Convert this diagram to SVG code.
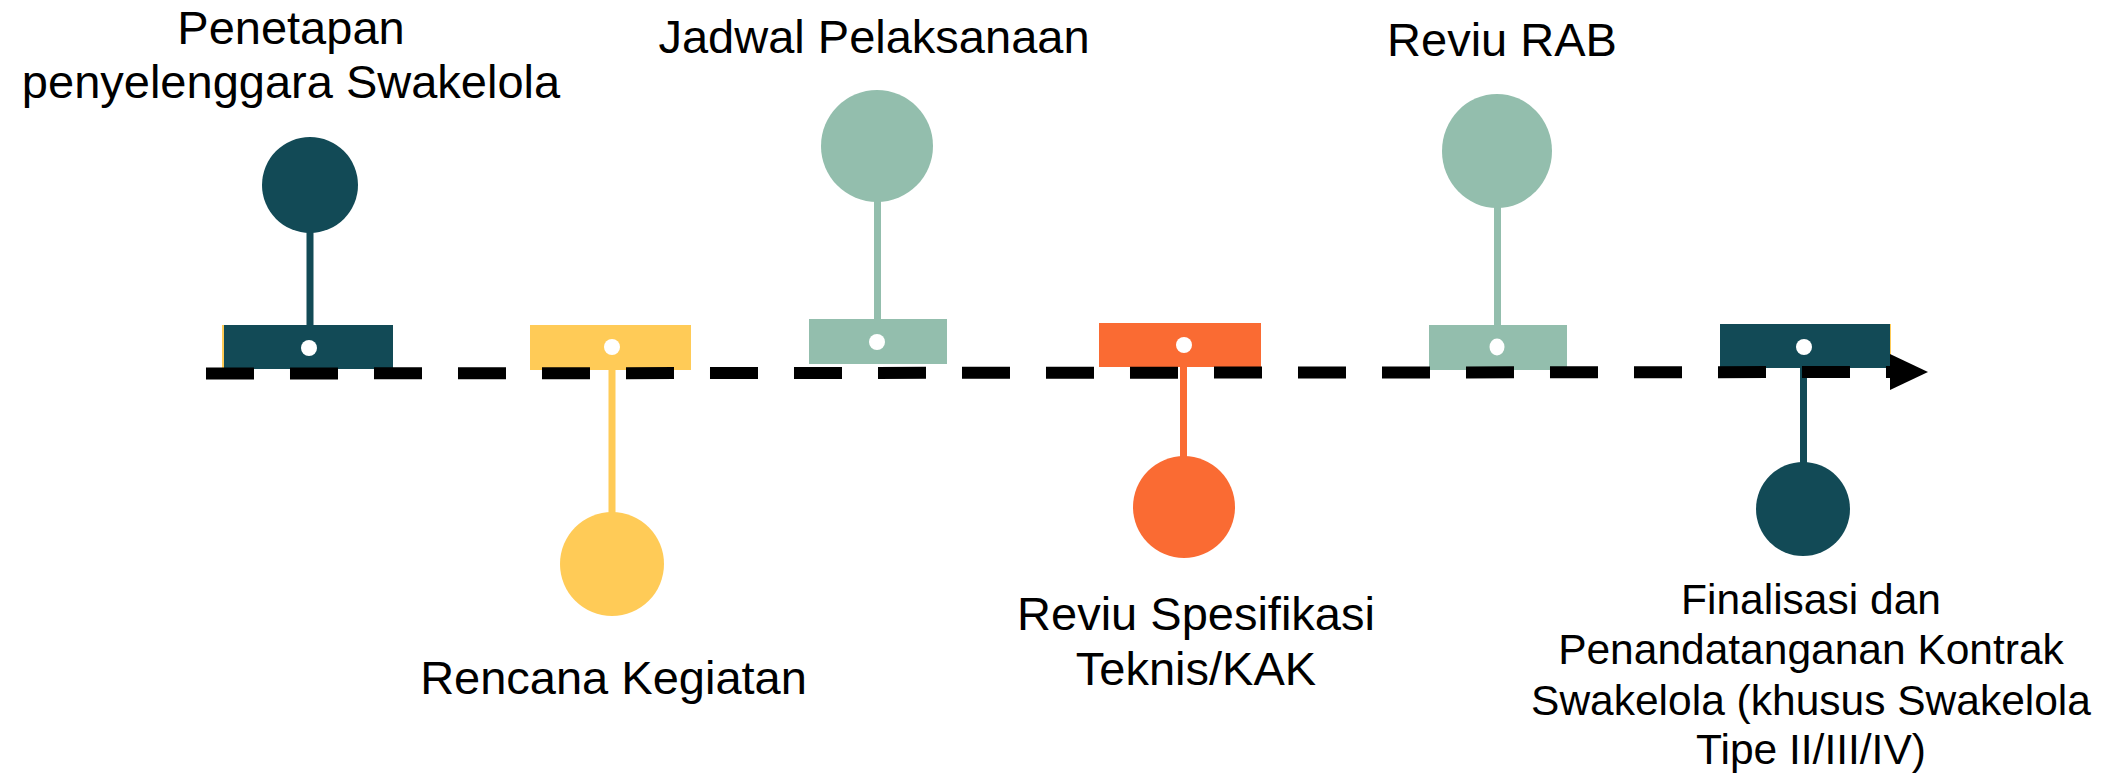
<svg xmlns="http://www.w3.org/2000/svg" width="2105" height="775" viewBox="0 0 2105 775">
<style>
.t{font-family:"Liberation Sans",Arial,sans-serif;font-size:47px;fill:#000;text-anchor:middle}
.ts{font-size:42.5px}
.dark{fill:#124A56}
.yel{fill:#FFCB57}
.sage{fill:#93BEAD}
.org{fill:#FA6B33}
.dot{fill:#fff}
</style>
<rect width="2105" height="775" fill="#fff"/>
<g id="node-penetapan">
<rect class="yel" x="222" y="325" width="4" height="44"/>
<rect class="dark" x="224" y="325" width="169" height="44"/>
<rect class="dark" x="306.5" y="228" width="7" height="98"/>
<circle class="dark" cx="310" cy="185" r="48"/>
<circle class="dot" cx="309" cy="348" r="8"/>
<text class="t" x="291" y="44">Penetapan</text>
<text class="t" x="291" y="98">penyelenggara Swakelola</text>
</g>
<g id="node-rencana">
<rect class="yel" x="530" y="325" width="161" height="45"/>
<rect class="yel" x="608.5" y="369" width="7" height="146"/>
<circle class="yel" cx="612" cy="564" r="52"/>
<circle class="dot" cx="612" cy="347" r="8"/>
<text class="t" x="613.5" y="694">Rencana Kegiatan</text>
</g>
<g id="node-jadwal">
<rect class="sage" x="809" y="319" width="138" height="45"/>
<rect class="sage" x="874" y="198" width="7" height="122"/>
<circle class="sage" cx="877" cy="146" r="56"/>
<circle class="dot" cx="877" cy="342" r="8"/>
<text class="t" x="874" y="53">Jadwal Pelaksanaan</text>
</g>
<g id="node-spesifikasi">
<rect class="org" x="1099" y="323" width="162" height="44"/>
<rect class="org" x="1180" y="366" width="7" height="94"/>
<circle class="org" cx="1184" cy="507" r="51"/>
<circle class="dot" cx="1184" cy="345" r="8"/>
<text class="t" x="1196" y="630">Reviu Spesifikasi</text>
<text class="t" x="1196" y="685">Teknis/KAK</text>
</g>
<g id="node-rab">
<rect class="sage" x="1429" y="325" width="138" height="45"/>
<rect class="sage" x="1494" y="203" width="7" height="123"/>
<ellipse class="sage" cx="1497" cy="151" rx="55" ry="57"/>
<ellipse class="dot" cx="1497" cy="347" rx="7.5" ry="8.5"/>
<text class="t" x="1502" y="56">Reviu RAB</text>
</g>
<g id="node-finalisasi">
<rect class="yel" x="1888" y="324" width="3" height="44"/>
<rect class="dark" x="1720" y="324" width="170" height="44"/>
<rect class="dark" x="1800" y="367" width="7" height="98"/>
<circle class="dark" cx="1803" cy="509" r="47"/>
<circle class="dot" cx="1804" cy="347" r="8"/>
<text class="t ts" x="1811" y="614">Finalisasi dan</text>
<text class="t ts" x="1811" y="664">Penandatanganan Kontrak</text>
<text class="t ts" x="1811" y="715">Swakelola (khusus Swakelola</text>
<text class="t ts" x="1811" y="764">Tipe II/III/IV)</text>
</g>
<g id="connectors">
<line x1="206" y1="373.5" x2="1892" y2="372" stroke="#000" stroke-width="12" stroke-dasharray="48 36"/>
<polygon points="1890,354 1928,372 1890,390" fill="#000"/>
</g>
</svg>
